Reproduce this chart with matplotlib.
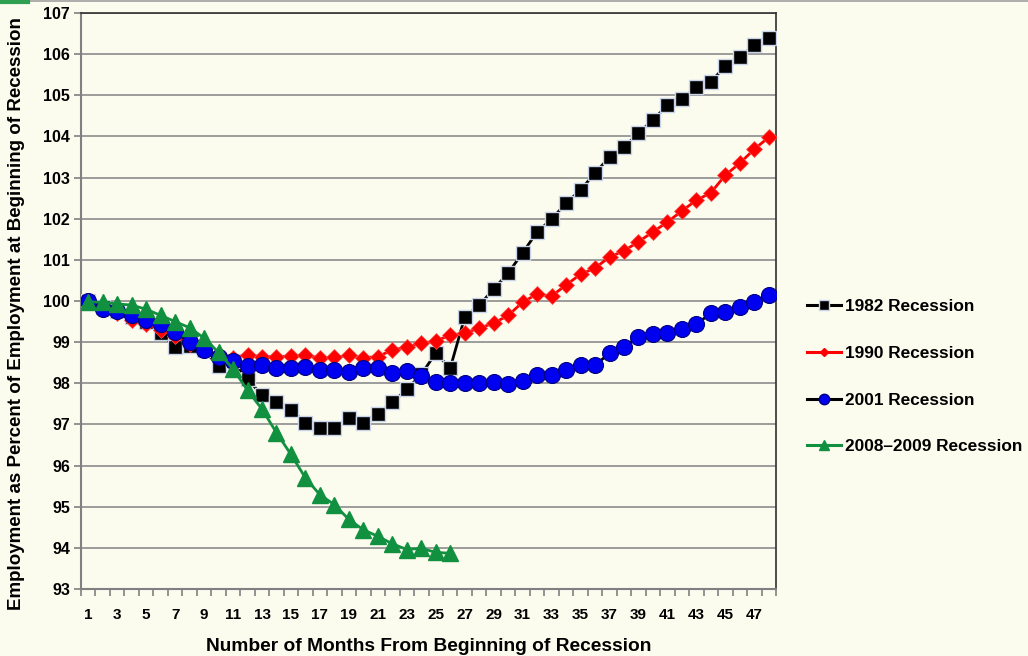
import numpy as np
import matplotlib
matplotlib.use("Agg")
import matplotlib.pyplot as plt
from matplotlib.lines import Line2D

plt.rcParams['font.family'] = ['Liberation Sans', 'DejaVu Sans']

months = np.arange(1, 49)

rec_1982 = [100.0, 99.85, 99.75, 99.6, 99.5, 99.22, 98.88, 98.9, 98.8, 98.42,
            98.55, 98.1, 97.71, 97.54, 97.35, 97.04, 96.91, 96.91, 97.15, 97.04,
            97.25, 97.54, 97.85, 98.22, 98.73, 98.37, 99.61, 99.9, 100.29, 100.68,
            101.17, 101.68, 101.99, 102.38, 102.7, 103.11, 103.5, 103.74, 104.08, 104.4,
            104.76, 104.9, 105.2, 105.33, 105.71, 105.93, 106.22, 106.39]

rec_1990 = [100.0, 99.8, 99.7, 99.55, 99.45, 99.3, 99.15, 98.95, 98.8, 98.7,
            98.62, 98.69, 98.65, 98.65, 98.66, 98.68, 98.62, 98.63, 98.68, 98.62,
            98.65, 98.81, 98.88, 98.97, 99.03, 99.17, 99.22, 99.34, 99.46, 99.65,
            99.97, 100.17, 100.12, 100.39, 100.65, 100.8, 101.07, 101.22, 101.44, 101.68,
            101.92, 102.19, 102.45, 102.63, 103.06, 103.35, 103.69, 103.98]

rec_2001 = [100.0, 99.8, 99.75, 99.65, 99.55, 99.45, 99.25, 99.0, 98.8, 98.65,
            98.55, 98.42, 98.44, 98.36, 98.36, 98.4, 98.32, 98.32, 98.28, 98.36,
            98.36, 98.26, 98.31, 98.18, 98.04, 98.0, 98.0, 98.0, 98.02, 97.98,
            98.06, 98.2, 98.2, 98.32, 98.44, 98.44, 98.73, 98.89, 99.13, 99.2,
            99.23, 99.32, 99.44, 99.7, 99.74, 99.86, 99.98, 100.14]

rec_2008 = [99.98, 99.97, 99.93, 99.9, 99.8, 99.65, 99.5, 99.35, 99.1, 98.75,
            98.35, 97.83, 97.37, 96.8, 96.27, 95.7, 95.29, 95.05, 94.69, 94.44,
            94.28, 94.1, 93.96, 93.99, 93.89, 93.87]

labels = ['1982 Recession', '1990 Recession', '2001 Recession', '2008\u20132009 Recession']

bg = '#FBFBEE'
fig = plt.figure(figsize=(10.28, 6.56), dpi=100, facecolor=bg)
ax = fig.add_axes([0.0788, 0.1021, 0.6761, 0.8781], facecolor=bg)

ax.plot(months, rec_1982, color='black', lw=2, marker='s', ms=10.5,
        mfc='black', mec='#C9D3EA', mew=1, zorder=3)
ax.plot(months, rec_1990, color='red', lw=2, marker='D', ms=8.5,
        mfc='red', mec='#FF5050', mew=0.5, zorder=4)
ax.plot(months, rec_2001, color='black', lw=2, marker='o', ms=11.5,
        mfc='#0000F0', mec='#000080', mew=0.8, zorder=5)
ax.plot(months[:len(rec_2008)], rec_2008, color='#119040', lw=2, marker='^', ms=11,
        mfc='#119040', mec='#119040', zorder=6)

ax.set_xlim(0.5, 48.5)
ax.set_ylim(93, 107)
ax.set_yticks(np.arange(93, 108))
ax.set_xticks(np.arange(1, 48, 2))
ax.set_xticks(np.arange(0.5, 49, 1), minor=True)
ax.tick_params(axis='x', which='major', length=0, pad=14, labelsize=11)
ax.tick_params(axis='x', which='minor', length=5, width=1.2, color='#808080')
ax.tick_params(axis='y', length=5, width=1.2, color='#808080', labelsize=11.5, pad=3)
for lab in ax.get_xticklabels() + ax.get_yticklabels():
    lab.set_fontweight('bold')

ax.grid(axis='y', color='#8C8C8C', lw=1.2)
ax.set_axisbelow(True)
for s in ['left', 'bottom']:
    ax.spines[s].set_color('#808080')
    ax.spines[s].set_linewidth(1.5)
for s in ['top', 'right']:
    ax.spines[s].set_color('#303030')
    ax.spines[s].set_linewidth(1.2)

ax.set_ylabel('Employment as Percent of Employment at Beginning of Recession',
              fontsize=13.5, fontweight='bold')
ax.yaxis.set_label_coords(-0.0806, 0.478)
ax.set_xlabel('Number of Months From Beginning of Recession',
              fontsize=13.8, fontweight='bold', labelpad=11)

handles = [
    Line2D([], [], color='black', lw=2.2, marker='s', ms=6.5, mfc='black', mec='#C9D3EA'),
    Line2D([], [], color='red', lw=2.2, marker='D', ms=4.5, mfc='red', mec='red'),
    Line2D([], [], color='black', lw=2.2, marker='o', ms=7.5, mfc='#0000F0', mec='#000080'),
    Line2D([], [], color='#119040', lw=2.2, marker='^', ms=6.5, mfc='#119040', mec='#119040'),
]
fig.legend(handles, labels, loc='upper left', bbox_to_anchor=(0.785, 0.544),
           frameon=False, prop={'weight': 'bold', 'size': 12.4},
           handlelength=2.0, handletextpad=0.2, labelspacing=1.84,
           borderpad=0, borderaxespad=0)

# thin frame line at the very top, green tab at left
fig.add_artist(Line2D([0.027, 1], [0.998, 0.998], color='#A0A0A0', lw=1.2))
fig.add_artist(Line2D([0, 0.027], [0.997, 0.997], color='#2EA050', lw=3))

fig.savefig('out.png', dpi=100, facecolor=bg)
